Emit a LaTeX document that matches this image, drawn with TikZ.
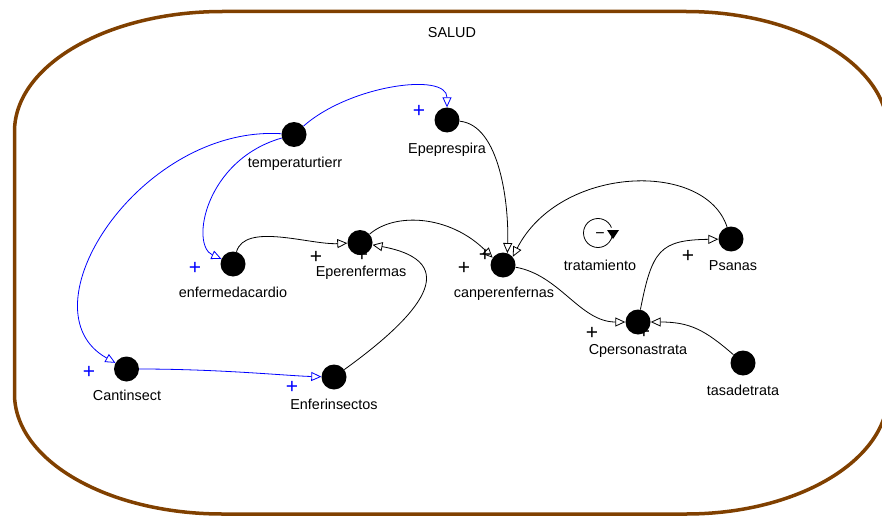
\documentclass[tikz,border=0pt]{standalone}
\usepackage{fontspec}
\setmainfont{Liberation Sans}
\usetikzlibrary{arrows.meta}
\definecolor{framebrown}{RGB}{128,64,0}
\definecolor{linkblue}{RGB}{0,0,255}
\begin{document}
\begin{tikzpicture}[x=1pt,y=-1pt,
  var/.style={circle,fill=black,minimum size=25pt,inner sep=0pt},
  lbl/.style={font=\fontsize{14.4}{16}\selectfont,text height=10.5pt,text depth=3pt,inner sep=0pt},
  sgn/.style={font=\fontsize{21}{22}\selectfont,inner sep=0pt},
  arr/.style={line width=0.8pt,-{Triangle[length=10pt,width=9pt,fill=white]}},
  blink/.style={arr,draw=linkblue},
  klink/.style={arr,draw=black}]
\useasboundingbox (0,0) rectangle (882,516);
% frame
\begin{scope}
\clip (0,0) rectangle (882,516);
\draw[framebrown,line width=3.5pt]
  (14.5,131.5) .. controls (14.5,65.2) and (107.6,11.5) .. (222.5,11.5)
  -- (686,11.5) .. controls (797.6,11.5) and (888,65.2) .. (888,131.5)
  -- (888,394) .. controls (888,460.3) and (797.6,514) .. (686,514)
  -- (222.5,514) .. controls (107.6,514) and (14.5,460.3) .. (14.5,394) -- cycle;
\end{scope}
\node[lbl] (salud) at (452,33.5) {SALUD};
% variables
\node[var] (temp) at (294,134.5) {};
\node[var] (epe)  at (447,120) {};
\node[var] (enf)  at (233,264) {};
\node[var] (eper) at (360,242.5) {};
\node[var] (canp) at (503,265) {};
\node[var] (cper) at (638,322) {};
\node[var] (psan) at (731,239) {};
\node[var] (tasa) at (743,363) {};
\node[var] (cant) at (126.5,369) {};
\node[var] (enfi) at (334,377) {};
% labels
\node[lbl] (ltemp) at (295,163.5) {temperaturtierr};
\node[lbl] (lepe)  at (447,149.5) {Epeprespira};
\node[lbl] (lenf)  at (233,293.5) {enfermedacardio};
\node[lbl] (leper) at (361,273) {Eperenfermas};
\node[lbl] (lcanp) at (504,293.5) {canperenfernas};
\node[lbl] (lcper) at (638,351) {Cpersonastrata};
\node[lbl] (lpsan) at (733,266.5) {Psanas};
\node[lbl] (ltasa) at (743,391.5) {tasadetrata};
\node[lbl] (lcant) at (127,396.5) {Cantinsect};
\node[lbl] (lenfi) at (334,405.5) {Enferinsectos};
\node[lbl] (ltrat) at (600,266.5) {tratamiento};
% loop symbol
\coordinate (loopc) at (598,233);
\draw[line width=0.8pt] (loopc) ++(22:14.5pt) arc[start angle=22,end angle=348,radius=14.5pt];
\fill ([shift={(9pt,3pt)}]loopc) -- ([shift={(21pt,3pt)}]loopc) -- ([shift={(15pt,-6pt)}]loopc) -- cycle;
\node[inner sep=0pt,font=\fontsize{16}{16}\selectfont] (loopminus) at (600,236) {−};
% blue links
\draw[blink] (temp) .. controls (350,85) and (447,72) .. (epe);
\draw[blink] (temp) .. controls (205,160) and (190,245) .. (enf);
\draw[blink] (temp) .. controls (140,125) and (20,310) .. (cant);
\draw[blink] (cant) .. controls (220,369) and (290,376) .. (enfi);
% black links
\draw[klink] (enf) .. controls (245,222) and (310,245) .. (eper);
\draw[klink] (enfi) .. controls (420,315) and (465,262) .. (eper);
\draw[klink] (eper) .. controls (395,212) and (450,215) .. (canp.145);
\draw[klink] (epe) .. controls (500,125) and (509,205) .. (canp.70);
\draw[klink] (psan) .. controls (705,160) and (560,165) .. (canp.40);
\draw[klink] (canp) .. controls (560,275) and (580,322) .. (cper);
\draw[klink] (cper) .. controls (652,250) and (660,240) .. (psan);
\draw[klink] (tasa) .. controls (705,330) and (690,322) .. (cper);
% polarity signs
\node[sgn,text=linkblue] (p1) at (419,111) {+};
\node[sgn,text=linkblue] (p2) at (195,268) {+};
\node[sgn,text=linkblue] (p3) at (89,372) {+};
\node[sgn,text=linkblue] (p4) at (292,387) {+};
\node[sgn] (p5) at (316,257) {+};
\node[sgn] (p6) at (362,255) {+};
\node[sgn] (p7) at (464,268) {+};
\node[sgn] (p8) at (485,255) {+};
\node[sgn] (p9) at (592,333) {+};
\node[sgn] (p10) at (644,332) {+};
\node[sgn] (p11) at (688,256) {+};
\end{tikzpicture}
\end{document}
